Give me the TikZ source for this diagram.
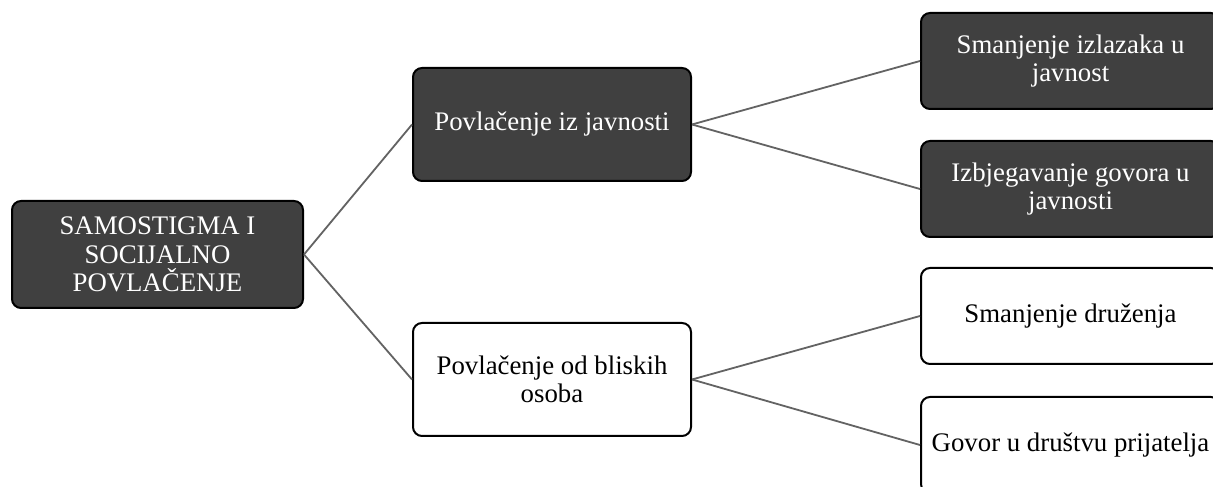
\documentclass[tikz,border=0pt]{standalone}
\usepackage{fontspec}
\setmainfont{Liberation Serif}
\definecolor{darkbox}{HTML}{404040}
\definecolor{linkgray}{HTML}{636363}
\begin{document}
\begin{tikzpicture}[x=1pt,y=1pt,
  box/.style={draw=black, line width=2pt, rounded corners=9pt, align=center,
    font=\fontsize{26.8}{28.5}\selectfont, inner sep=0pt},
  darkb/.style={box, fill=darkbox, text=white},
  lightb/.style={box, fill=white, text=black},
  link/.style={draw=linkgray, line width=1.8pt}]
\clip (0,0) rectangle (1213,487);
\fill[white] (0,0) rectangle (1213,487);
% root
\node[darkb, minimum width=291pt, minimum height=107pt] (root) at (157.5,232.5)
  {SAMOSTIGMA I\\SOCIJALNO\\POVLAČENJE};
% middle
\node[darkb, minimum width=278pt, minimum height=113pt] (m1) at (552,362.5)
  {Povlačenje iz javnosti};
\node[lightb, minimum width=278pt, minimum height=113pt] (m2) at (552,107.5)
  {Povlačenje od bliskih\\osoba};
% right
\node[darkb, minimum width=299pt, minimum height=96pt] (r1) at (1070.5,426)
  {Smanjenje izlazaka u\\javnost};
\node[darkb, minimum width=299pt, minimum height=96pt] (r2) at (1070.5,298)
  {Izbjegavanje govora u\\javnosti};
\node[lightb, minimum width=299pt, minimum height=96pt] (r3) at (1070.5,171)
  {Smanjenje druženja};
\node[lightb, minimum width=299pt, minimum height=96pt] (r4) at (1070.5,42)
  {Govor u društvu prijatelja};
% connectors
\draw[link] (root.east) -- (m1.west);
\draw[link] (root.east) -- (m2.west);
\draw[link] (m1.east) -- (r1.west);
\draw[link] (m1.east) -- (r2.west);
\draw[link] (m2.east) -- (r3.west);
\draw[link] (m2.east) -- (r4.west);
\end{tikzpicture}
\end{document}
